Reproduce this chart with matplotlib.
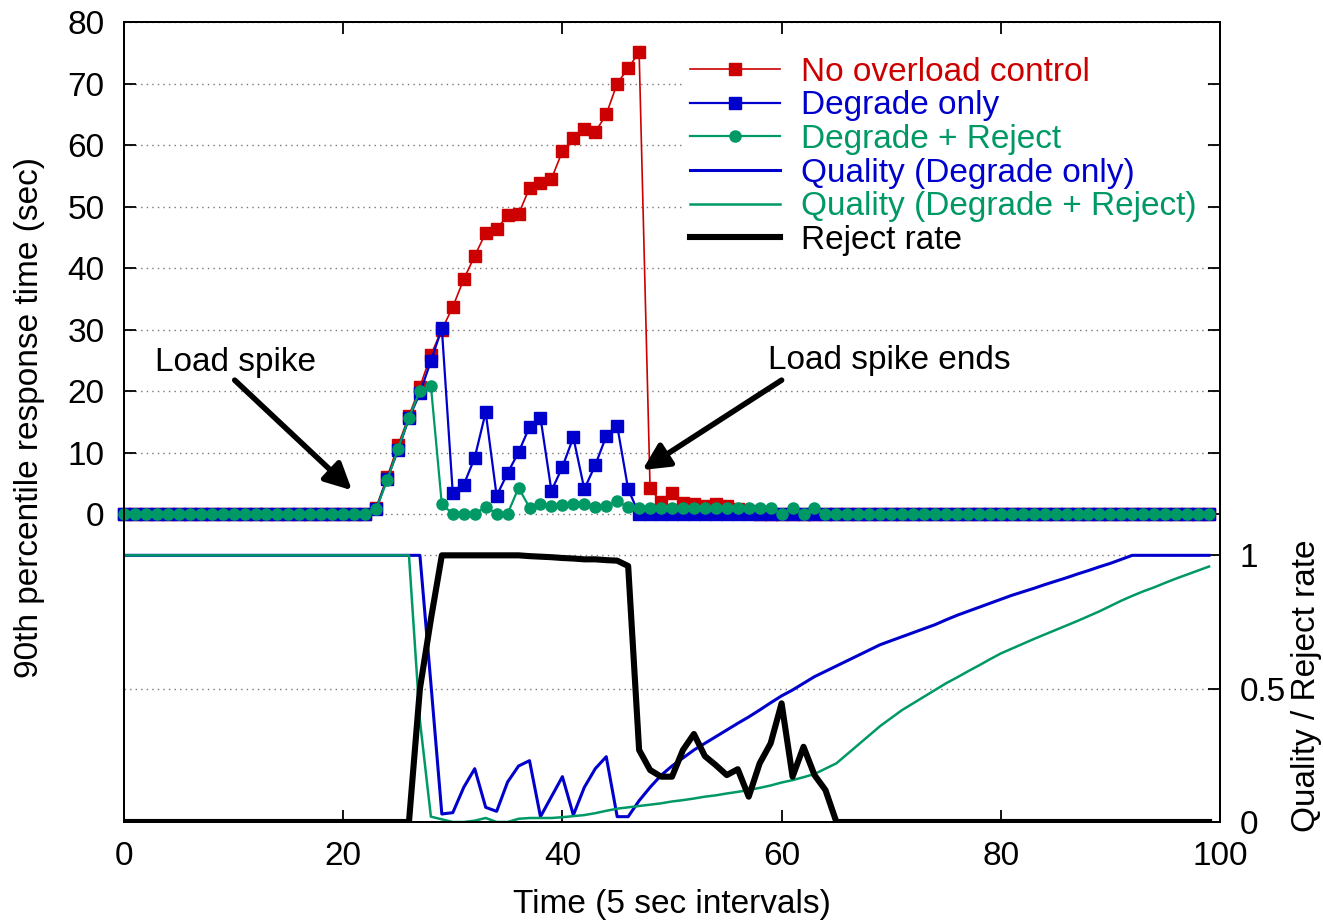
import matplotlib
matplotlib.use("Agg")
import matplotlib.pyplot as plt
import numpy as np

plt.rcParams['font.family'] = ['Liberation Sans', 'DejaVu Sans']

RED = '#cc0000'
BLUE = '#0000cc'
GREEN = '#009966'
FS = 24

t = np.arange(100)

# 90th percentile response time (sec)
no_control = [0] * 23 + [
    1.1, 6.0, 11.2, 16.0, 20.7, 25.9, 30.0, 33.7, 38.2, 42.0, 45.7, 46.3,
    48.6, 48.8, 53.0, 53.8, 54.5, 59.0, 61.1, 62.6, 62.1, 65.0, 70.0, 72.5,
    75.1, 4.2, 2.0, 3.4, 1.8, 1.6, 1.4, 1.6, 1.4, 0.8, 0.5] + [0] * 42

degrade_only = [0] * 23 + [
    0.8, 5.7, 10.4, 15.6, 19.7, 24.9, 30.2, 3.4, 4.8, 9.2, 16.6, 3.0,
    6.7, 10.1, 14.2, 15.7, 3.8, 7.7, 12.5, 4.1, 8.0, 12.7, 14.4, 4.1] + [0] * 53

degrade_reject = [0] * 23 + [
    0.8, 5.5, 10.6, 15.7, 20.1, 20.9, 1.6, 0.1, 0.1, 0.1, 1.2, 0.1,
    0.1, 4.3, 1.1, 1.7, 1.3, 1.5, 1.7, 1.6, 1.2, 1.4, 2.1, 1.2] + \
    [1.1] * 13 + [0, 1.1, 0, 1.1] + [0] * 36

# quality and reject rate (right axis)
quality_degrade = [1.0] * 28 + [
    0.52, 0.03, 0.035, 0.13, 0.2, 0.055, 0.04, 0.15, 0.21, 0.23, 0.02,
    0.095, 0.17, 0.026, 0.13, 0.2, 0.245, 0.02, 0.02,
    0.08, 0.13, 0.175, 0.21, 0.24, 0.27, 0.295, 0.32, 0.345, 0.37, 0.394,
    0.42, 0.447, 0.473, 0.495, 0.52, 0.545, 0.565, 0.585, 0.605, 0.625,
    0.645, 0.665, 0.68, 0.695, 0.71, 0.725, 0.74, 0.758, 0.775, 0.79,
    0.805, 0.82, 0.835, 0.85, 0.863, 0.876, 0.89, 0.903, 0.916, 0.93,
    0.943, 0.957, 0.97, 0.985] + [1.0] * 8

quality_reject = [1.0] * 27 + [
    0.38, 0.02, 0.01, 0.0, 0.0, 0.005, 0.015, 0.0, 0.0, 0.012, 0.015,
    0.015, 0.015, 0.018, 0.022, 0.026, 0.033, 0.042, 0.05, 0.055, 0.06,
    0.065, 0.07, 0.077, 0.082, 0.088, 0.095, 0.1, 0.107, 0.113, 0.12,
    0.128, 0.137, 0.148, 0.157, 0.168, 0.18, 0.2, 0.22, 0.255, 0.29,
    0.325, 0.36, 0.39, 0.42, 0.445, 0.47, 0.495, 0.52, 0.542, 0.565,
    0.587, 0.61, 0.632, 0.65, 0.668, 0.686, 0.703, 0.72, 0.737, 0.754,
    0.772, 0.79, 0.81, 0.83, 0.848, 0.865, 0.88, 0.897, 0.913, 0.928,
    0.943, 0.958]

reject_rate = [0] * 27 + [
    0.5, 0.76, 1.0, 1.0, 1.0, 1.0, 1.0, 1.0, 1.0, 1.0, 0.997, 0.995,
    0.993, 0.99, 0.988, 0.985, 0.985, 0.982, 0.98, 0.96,
    0.27, 0.195, 0.17, 0.17, 0.27, 0.33, 0.247, 0.213, 0.176, 0.198,
    0.095, 0.22, 0.295, 0.445, 0.17, 0.282, 0.176, 0.12] + [0] * 35

labels = ["No overload control", "Degrade only", "Degrade + Reject",
          "Quality (Degrade only)", "Quality (Degrade + Reject)", "Reject rate"]

fig = plt.figure(figsize=(13.23, 9.24), dpi=100)
ax = fig.add_axes([124 / 1323, 1 - 822 / 924, 1096 / 1323, 800 / 924])
ax2 = ax.twinx()

l1, = ax.plot(t, no_control, '-s', color=RED, lw=1.2, ms=8.5, clip_on=False)
l2, = ax.plot(t, degrade_only, '-s', color=BLUE, lw=1.6, ms=8.5, clip_on=False)
l3, = ax.plot(t, degrade_reject, '-o', color=GREEN, lw=1.6, ms=8, clip_on=False)

l4, = ax2.plot(t, quality_degrade, '-', color=BLUE, lw=2.2)
l5, = ax2.plot(t, quality_reject, '-', color=GREEN, lw=1.8)
l6, = ax2.plot(t, reject_rate, '-', color='black', lw=4.4)

ax.set_xlim(0, 100)
ax.set_ylim(-50, 80)
ax2.set_ylim(0, 3)
ax.set_xticks([0, 20, 40, 60, 80, 100])
ax.set_yticks(np.arange(0, 81, 10))
ax2.set_yticks([0, 0.5, 1])
ax2.set_yticklabels(['0', '0.5', '1'])

ax.tick_params(axis='both', direction='in', length=8.5, width=1.3,
               labelsize=FS, top=True, right=True)
ax.tick_params(axis='y', pad=14)
ax.tick_params(axis='x', pad=14)
ax2.tick_params(axis='y', direction='in', length=8.5, width=1.3,
                labelsize=FS, pad=14)

for a in (ax, ax2):
    for s in a.spines.values():
        s.set_linewidth(1.4)

ax.yaxis.grid(True, color='#777777', lw=1, linestyle=(0, (1, 3)))
ax2.yaxis.grid(True, color='#777777', lw=1, linestyle=(0, (1, 3)))
ax.set_axisbelow(True)
ax2.set_axisbelow(True)

fig.text(30 / 1323, 1 - 418 / 924, "90th percentile response time (sec)",
         rotation=90, ha='center', va='center', fontsize=FS)
fig.text(1306 / 1323, 1 - 686 / 924, "Quality / Reject rate",
         rotation=90, ha='center', va='center', fontsize=FS)
fig.text(672 / 1323, 1 - 905 / 924, "Time (5 sec intervals)",
         ha='center', va='center', fontsize=FS)

arrow = dict(arrowstyle='-|>', lw=4, color='black', mutation_scale=40,
             shrinkA=0, shrinkB=0)
ax.text(2.8, 24.7, "Load spike", fontsize=FS, va='center', ha='left')
ax.annotate("", xy=(20.8, 3.9), xytext=(10.1, 21.8), arrowprops=arrow)
ax.text(58.8, 25, "Load spike ends", fontsize=FS, va='center', ha='left')
ax.annotate("", xy=(47.3, 7.2), xytext=(60.0, 21.8), arrowprops=arrow)

# opaque key box, like gnuplot's, hides the grid behind it
handles = [l1, l2, l3, l4, l5, l6]
leg = ax2.legend(handles, labels, loc='upper left',
                 bbox_to_anchor=((683 - 124) / 1096, (822 - 50) / 800),
                 frameon=True, fancybox=False, framealpha=1,
                 facecolor='white', edgecolor='none',
                 fontsize=FS, numpoints=1, handlelength=2.7,
                 handletextpad=0.65, labelspacing=0.08, borderpad=0.2,
                 borderaxespad=0)
for txt, c in zip(leg.get_texts(), [RED, BLUE, GREEN, BLUE, GREEN, 'black']):
    txt.set_color(c)

fig.savefig("out.png", dpi=100)
